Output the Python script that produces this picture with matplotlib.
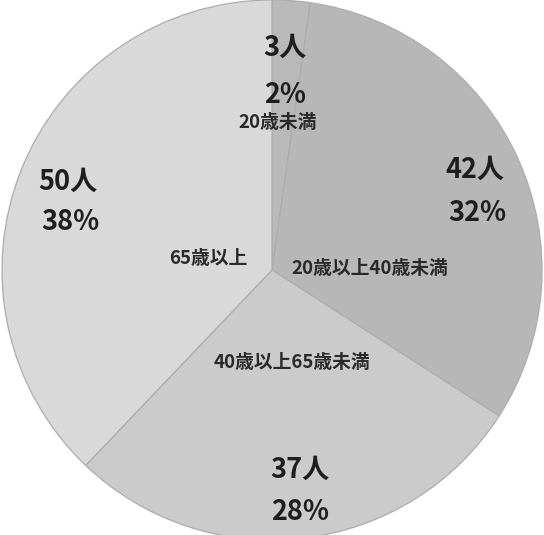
import matplotlib.pyplot as plt

plt.rcParams['font.family'] = ['Noto Sans CJK JP', 'DejaVu Sans']

# データ（年齢層別人数）
labels = ['20歳未満', '20歳以上40歳未満', '40歳以上65歳未満', '65歳以上']
counts = [3, 42, 37, 50]
colors = ['#b9b9b9', '#b7b7b7', '#cbcbcb', '#d9d9d9']

# ラベル位置（ピクセル中心）: 人数 / 割合 / 区分名
count_px = [(285, 48), (475, 170), (300, 470), (68, 182)]
pct_px = [(285, 95), (477, 213), (300, 512), (70, 222)]
name_px = [(278, 122), (370, 268), (292, 363), (208, 258)]

W, H = 544, 535
fig = plt.figure(figsize=(W / 100, H / 100), dpi=100)
ax = fig.add_axes([0, 0, 1, 1])

ax.pie(counts, colors=colors, startangle=90, counterclock=False,
       radius=1.0, center=(0, 0),
       wedgeprops=dict(edgecolor='#adadad', linewidth=0.9))
ax.set_xlim(-272 / 270, 272 / 270)
ax.set_ylim(-265 / 270, 270 / 270)
ax.set_aspect('equal')
ax.axis('off')


def fr(p):
    return p[0] / W, 1 - p[1] / H


total = sum(counts)
for n, name, cp, pp, np_ in zip(counts, labels, count_px, pct_px, name_px):
    pct = round(n / total * 100)
    ax.text(*fr(cp), f'{n}人', transform=ax.transAxes, ha='center', va='center',
            fontsize=19.5, fontweight='bold', color='#1e1e1e')
    ax.text(*fr(pp), f'{pct}%', transform=ax.transAxes, ha='center', va='center',
            fontsize=19.5, fontweight='bold', color='#1e1e1e')
    ax.text(*fr(np_), name, transform=ax.transAxes, ha='center', va='center',
            fontsize=13.5, fontweight='bold', color='#2a2a2a')

plt.savefig('out.png', dpi=100)
plt.close()
